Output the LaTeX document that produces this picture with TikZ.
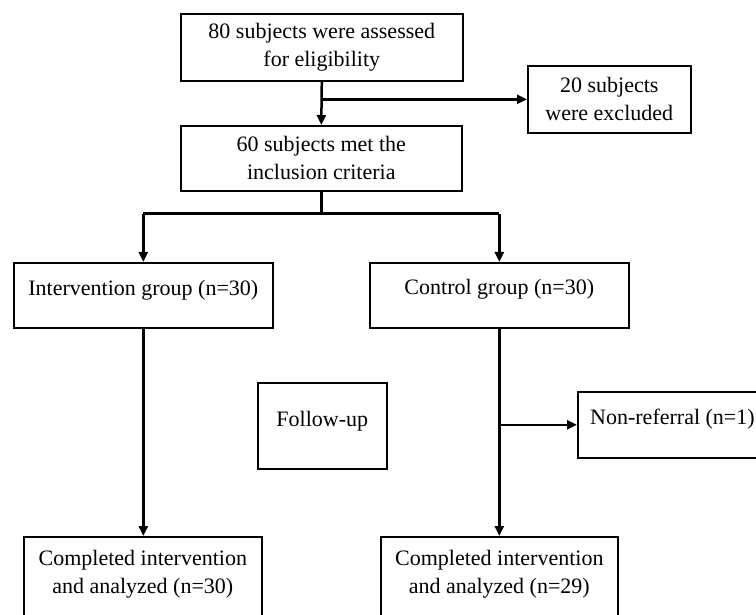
\documentclass[tikz,border=0pt]{standalone}
\usepackage{fontspec}
\setmainfont{Liberation Serif}
\usetikzlibrary{arrows.meta}
\begin{document}
\begin{tikzpicture}[x=1pt,y=-1pt,
  box/.style={draw, line width=1.6pt, rectangle, inner sep=0pt, anchor=north west},
  txt/.style={font=\fontsize{22}{28}\selectfont, align=center, inner sep=0pt},
  arr/.style={line width=2.5pt, -{Triangle[length=10pt,width=9pt]}},
  ln/.style={line width=2.5pt}]
\useasboundingbox (0,0) rectangle (756,615);
\clip (0,0) rectangle (756,615);
% boxes
\node[box, minimum width=282pt, minimum height=67pt] (b1) at (180,13) {};
\node[box, minimum width=281pt, minimum height=65pt] (b2) at (180,125) {};
\node[box, minimum width=163pt, minimum height=67pt] (excl) at (527,65) {};
\node[box, minimum width=259pt, minimum height=65pt] (interv) at (13,262) {};
\node[box, minimum width=259pt, minimum height=65pt] (ctrl) at (369,262) {};
\node[box, minimum width=129pt, minimum height=86pt] (follow) at (257,382) {};
\node[box, minimum width=220pt, minimum height=66pt] (nonref) at (577,391) {};
\node[box, minimum width=238pt, minimum height=110pt] (cl) at (23,536) {};
\node[box, minimum width=237pt, minimum height=110pt] (cr) at (380,536) {};
% texts
\node[txt] (t1) at (b1.center) {80 subjects were assessed\\for eligibility};
\node[txt] (t2) at (b2.center) {60 subjects met the\\inclusion criteria};
\node[txt] (t3) at (excl.center) {20 subjects\\were excluded};
\node[txt, yshift=5pt] (t4) at (interv.center) {Intervention group (n=30)};
\node[txt, yshift=6pt] (t5) at (ctrl.center) {Control group (n=30)};
\node[txt, yshift=5pt] (t6) at (follow.center) {Follow-up};
\node[txt, anchor=west, xshift=13pt, yshift=6pt] (t7) at (nonref.west) {Non-referral (n=1)};
\node[txt, yshift=-38pt] (t8) at (cl.north) {Completed intervention\\and analyzed (n=30)};
\node[txt, yshift=-38pt] (t9) at (cr.north) {Completed intervention\\and analyzed (n=29)};
% connectors
\draw[arr] (b1.south) -- (b2.north);
\coordinate (j1) at (b1.south |- excl.west);
\draw[arr] (j1) -- (excl.west);
\draw[ln] (b2.south) -- ++(0,22) coordinate (j2);
\coordinate (jl) at (interv.north |- j2);
\coordinate (jr) at (ctrl.north |- j2);
\draw[ln] (jl) -- (jr);
\draw[arr] (jl) -- (interv.north);
\draw[arr] (jr) -- (ctrl.north);
\draw[arr] (interv.south) -- (interv.south |- cl.north);
\draw[arr] (ctrl.south) -- (ctrl.south |- cr.north);
\coordinate (j3) at (ctrl.south |- nonref.west);
\draw[arr] (j3) -- (nonref.west);
\end{tikzpicture}
\end{document}
